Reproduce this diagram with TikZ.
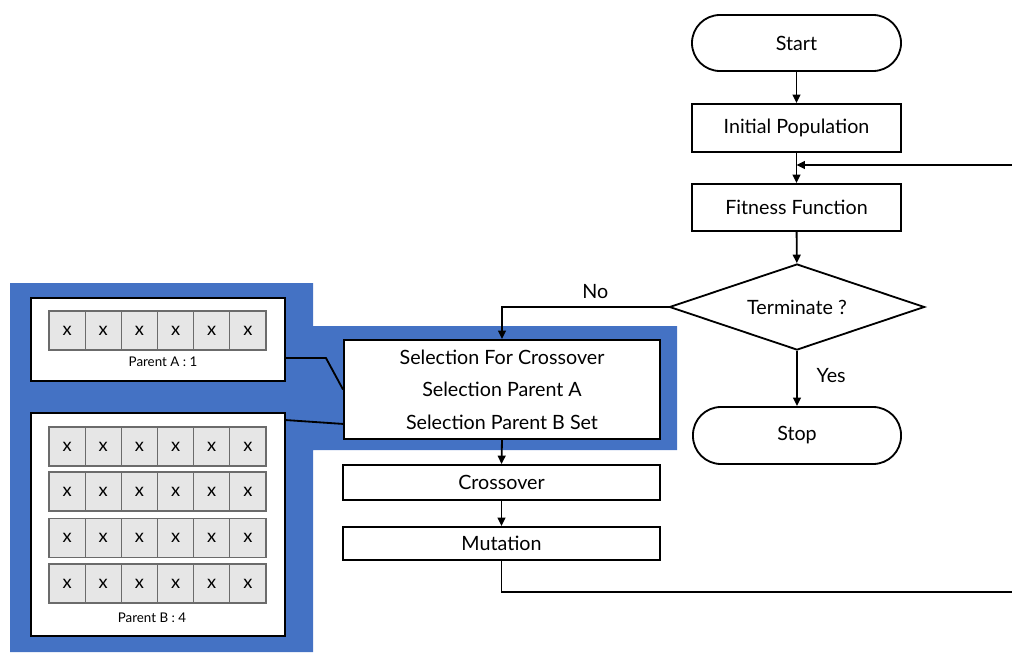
\documentclass[tikz,border=0pt]{standalone}
\usepackage{fontspec}
\setmainfont{Lato}
\usetikzlibrary{shapes.geometric,arrows.meta,calc}
\definecolor{panelblue}{HTML}{4472C4}
\definecolor{cellgray}{HTML}{E6E6E6}
\definecolor{celledge}{HTML}{6B6B6B}

\begin{document}
\begin{tikzpicture}[x=0.025cm,y=-0.025cm,
  box/.style={draw,line width=1.3pt,fill=white,inner sep=0pt,font=\fontsize{14}{16}\selectfont},
  terminal/.style={box,rounded corners=0.7cm},
  decision/.style={box,diamond,shape aspect=2.9,minimum width=6.375cm,minimum height=2.15cm},
  flow/.style={line width=1.3pt,-{Triangle[length=6pt,width=5.5pt]}},
  link/.style={line width=1.3pt},
  holder/.style={draw,line width=1.3pt,fill=white,minimum width=6.35cm,inner sep=0pt},
  cell/.style={draw=celledge,line width=0.8pt,fill=cellgray,minimum width=0.905cm,minimum height=0.975cm,inner sep=0pt,font=\fontsize{13}{13}\selectfont},
  tag/.style={font=\fontsize{9.5}{10}\selectfont},
  answer/.style={font=\fontsize{14}{16}\selectfont}]

\useasboundingbox (0,0) rectangle (1012,652);

% blue panel behind the selection stage
\fill[panelblue] (10,283) -- (313,283) -- (313,326) -- (677,326) -- (677,450)
  -- (313,450) -- (313,652) -- (10,652) -- cycle;

% main flow
\node[terminal,minimum width=5.225cm,minimum height=1.4cm] (start) at (796.5,43) {Start};
\node[box,minimum width=5.225cm,minimum height=1.2cm] (init) at (796.5,128) {Initial Population};
\node[box,minimum width=5.225cm,minimum height=1.175cm] (fit) at (796.5,207.5) {Fitness Function};
\node[decision] (term) at (797,307) {Terminate ?};
\node[terminal,minimum width=5.2cm,minimum height=1.425cm] (stop) at (797,435.5) {Stop};

\node[box,minimum width=7.9cm,minimum height=2.475cm,align=center,
  font=\fontsize{14}{23}\selectfont] (sel) at (502,389.5)
  {Selection For Crossover\\Selection Parent A\\Selection Parent B Set};
\node[box,minimum width=7.925cm,minimum height=0.875cm] (cross) at (501.5,482.5) {Crossover};
\node[box,minimum width=7.925cm,minimum height=0.825cm] (mut) at (501.5,543.5) {Mutation};

% parent holders
\node[holder,minimum height=2.075cm] (pA) at (158,339.5) {};
\foreach \i in {0,...,5}
  \node[cell] (a\i) at ({67.1+36.17*\i},330.5) {x};
\node[tag] (pAlabel) at (163,362) {Parent A : 1};

\node[holder,minimum height=5.575cm] (pB) at (158,524.5) {};
\foreach \r/\yy in {1/446.5,2/491.5,3/538,4/583.5}
  \foreach \i in {0,...,5}
    \node[cell] (b\r\i) at ({67.1+36.17*\i},\yy) {x};
\node[tag] (pBlabel) at (152,618) {Parent B : 4};

% connectors
\draw[flow] (start) -- (init);
\draw[flow] (init) -- (fit);
\draw[flow] (fit) -- (term);
\draw[flow] (term.west) -| node[answer,pos=0.22,above=2pt] {No} (sel.north);
\draw[flow] (term.south) -- node[answer,pos=0.45,right=10pt] {Yes} (stop.north);
\draw[flow] (sel.south) -- (cross.north);
\draw[flow] (cross) -- (mut);

\coordinate (feed) at (1012,165);
\draw[flow] (feed) -- (feed -| init.south);
\coordinate (back) at (1012,592);
\draw[link] (mut.south) |- (back);

\draw[link] ($(pA.east)+(0,18.5)$) -- ++(40,0) -- (sel.west);
\draw[link] ($(pB.north east)+(0,8)$) -- ($(sel.south west)+(0,-16)$);
\end{tikzpicture}
\end{document}
